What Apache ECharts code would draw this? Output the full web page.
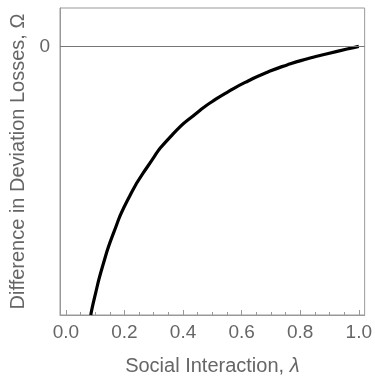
<!DOCTYPE html>
<html>
<head>
<meta charset="utf-8">
<script src="https://cdn.jsdelivr.net/npm/echarts@6/dist/echarts.min.js"></script>
<style>
  html, body { margin: 0; padding: 0; background: #fff; }
  #chart { width: 375px; height: 381px; }
</style>
</head>
<body>
<div id="chart"></div>
<script>
// Social interaction λ and the difference in deviation losses Ω
const lambdaValues = [0.085, 0.0983, 0.1264, 0.1636, 0.2109, 0.2785, 0.363, 0.4532, 0.5, 0.5546, 0.6222, 0.6898, 0.7573, 0.8249, 0.8925, 0.96, 1.0];
const omegaValues  = [-2.70, -2.52, -2.20, -1.87, -1.545, -1.21, -0.89, -0.655, -0.555, -0.455, -0.348, -0.258, -0.185, -0.125, -0.075, -0.027, 0];

const xMajorTicks = [0, 0.2, 0.4, 0.6, 0.8, 1.0];
const xMinorTicks = [0.05, 0.1, 0.15, 0.25, 0.3, 0.35, 0.45, 0.5, 0.55, 0.65, 0.7, 0.75, 0.85, 0.9, 0.95];
const yTicks = [0];

const xLabelText = 'Social Interaction, ';
const xLabelSymbol = 'λ';
const yLabel = 'Difference in Deviation Losses, Ω';

const textColor = '#666';
const frameColor = '#999';
const fontFamily = 'Liberation Sans, Arial, sans-serif';

const xRange = [-0.02, 1.02];
const yRange = [-2.70, 0.385];

const chart = echarts.init(document.getElementById('chart'), null, { renderer: 'canvas' });

chart.setOption({
  animation: false,
  backgroundColor: '#fff',
  grid: {
    left: 60, right: 7, top: 8, bottom: 65,
    show: true, borderColor: frameColor, borderWidth: 1
  },
  xAxis: [
    {
      type: 'value', min: xRange[0], max: xRange[1], position: 'bottom',
      name: xLabelText + '{it|' + xLabelSymbol + '}',
      nameLocation: 'middle', nameGap: 41,
      nameTextStyle: {
        color: textColor, fontSize: 20, fontFamily: fontFamily,
        rich: { it: { color: textColor, fontSize: 20, fontFamily: fontFamily, fontStyle: 'italic' } }
      },
      axisLine: { show: true, onZero: false, lineStyle: { color: frameColor, width: 1 } },
      axisTick: { show: true, inside: true, length: 5, customValues: xMajorTicks, lineStyle: { color: frameColor } },
      axisLabel: {
        show: true, customValues: xMajorTicks, margin: 8,
        color: textColor, fontSize: 19, fontFamily: fontFamily,
        formatter: v => v.toFixed(1)
      },
      splitLine: { show: false }
    },
    {
      // minor ticks along the bottom frame
      type: 'value', min: xRange[0], max: xRange[1], position: 'bottom',
      axisLine: { show: false, onZero: false },
      axisTick: { show: true, inside: true, length: 3, customValues: xMinorTicks, lineStyle: { color: frameColor } },
      axisLabel: { show: false },
      splitLine: { show: false }
    }
  ],
  yAxis: {
    type: 'value', min: yRange[0], max: yRange[1],
    name: yLabel, nameLocation: 'middle', nameGap: 25,
    nameTextStyle: { color: textColor, fontSize: 20, fontFamily: fontFamily },
    axisLine: { show: true, onZero: false, lineStyle: { color: frameColor, width: 1 } },
    axisTick: { show: true, inside: true, length: 5, customValues: yTicks, lineStyle: { color: frameColor } },
    axisLabel: {
      show: true, customValues: yTicks, margin: 10,
      color: textColor, fontSize: 19, fontFamily: fontFamily,
      formatter: v => String(v)
    },
    splitLine: { show: false }
  },
  series: [
    {
      type: 'line',
      xAxisIndex: 0,
      data: lambdaValues.map((x, i) => [x, omegaValues[i]]),
      smooth: 0.6,
      showSymbol: false,
      clip: true,
      lineStyle: { color: '#000', width: 3.2 },
      markLine: {
        silent: true, symbol: 'none', label: { show: false },
        lineStyle: { color: '#777', width: 1, type: 'solid' },
        data: [{ yAxis: 0 }]
      }
    }
  ]
});
</script>
</body>
</html>
